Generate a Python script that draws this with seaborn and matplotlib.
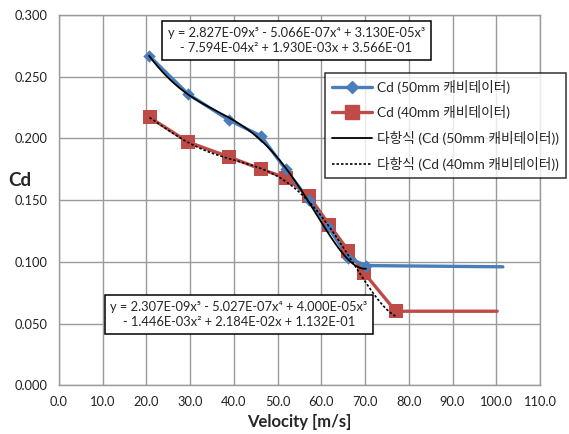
import numpy as np
import pandas as pd
import matplotlib
matplotlib.use("Agg")
import matplotlib.pyplot as plt
from matplotlib.lines import Line2D
import seaborn as sns

# Measured drag coefficients
vel_50 = [20.6, 29.5, 38.8, 46.2, 51.8, 57.2, 61.6, 66.2, 70.2, 101.5]
cd_50 = [0.267, 0.236, 0.215, 0.202, 0.175, 0.150, 0.128, 0.103, 0.097, 0.096]
vel_40 = [20.7, 29.6, 38.9, 46.3, 51.9, 57.2, 61.8, 66.2, 69.8, 77.0, 100.2]
cd_40 = [0.217, 0.197, 0.185, 0.175, 0.168, 0.153, 0.130, 0.109, 0.091, 0.060, 0.060]

# 5th-order polynomial trendline coefficients (highest power first)
coef_50 = [2.827e-09, -5.066e-07, 3.130e-05, -7.594e-04, 1.930e-03, 3.566e-01]
coef_40 = [2.307e-09, -5.027e-07, 4.000e-05, -1.446e-03, 2.184e-02, 1.132e-01]

label_50 = "Cd (50mm 캐비테이터)"
label_40 = "Cd (40mm 캐비테이터)"
label_p50 = "다항식 (Cd (50mm 캐비테이터))"
label_p40 = "다항식 (Cd (40mm 캐비테이터))"

x_ticks = np.arange(0, 111, 10)
y_ticks = np.arange(0, 0.301, 0.05)

sns.set_theme(style="white")
plt.rcParams["font.family"] = ["Lato", "Noto Sans CJK KR", "DejaVu Sans"]

blue = "#4A7EBB"
red = "#BE4B48"
grid_c = "#9a9a9a"

W, H = 569, 434
fig = plt.figure(figsize=(W / 100, H / 100), dpi=100)
ax = fig.add_axes([59 / W, 1 - 385.3 / H, 481 / W, 370.3 / H])

df50 = pd.DataFrame({"v": vel_50, "cd": cd_50})
df40 = pd.DataFrame({"v": vel_40, "cd": cd_40})

# Series lines
sns.lineplot(data=df50, x="v", y="cd", ax=ax, color=blue, lw=2.4,
             sort=False, zorder=3)
sns.lineplot(data=df40, x="v", y="cd", ax=ax, color=red, lw=2.4,
             sort=False, zorder=2)
# Markers on the measured points
sns.scatterplot(data=df50.iloc[:-1], x="v", y="cd", ax=ax, color=blue,
                marker="D", s=40, edgecolor=blue, linewidth=0, zorder=4)
sns.scatterplot(data=df40.iloc[:-1], x="v", y="cd", ax=ax, color=red,
                marker="s", s=95, edgecolor=red, linewidth=0, zorder=3)

# Polynomial trendlines
xs50 = np.linspace(vel_50[0], vel_50[-2], 200)
xs40 = np.linspace(vel_40[0], vel_40[-2], 200)
ax.plot(xs50, np.polyval(coef_50, xs50), color="black", lw=1.3, zorder=5)
ax.plot(xs40, np.polyval(coef_40, xs40), color="black", lw=1.2,
        ls=(0, (1.5, 1.2)), zorder=5)


def poly_text(c):
    def f(v):
        return f"{abs(v):.3E}"

    def sign(v):
        return "+" if v >= 0 else "-"

    l1 = (f"y = {f(c[0])}x⁵ {sign(c[1])} {f(c[1])}x⁴ "
          f"{sign(c[2])} {f(c[2])}x³")
    l2 = (f"{sign(c[3])} {f(c[3])}x² {sign(c[4])} {f(c[4])}x "
          f"{sign(c[5])} {f(c[5])}")
    return l1 + "\n" + l2


box = dict(boxstyle="square,pad=0.45", fc="white", ec="black", lw=1.1)
fig.text(296.5 / W, 1 - 40.3 / H, poly_text(coef_50), fontsize=9.3,
         ha="center", va="center", linespacing=1.35, bbox=box, zorder=6)
fig.text(239 / W, 1 - 314.6 / H, poly_text(coef_40), fontsize=9.3,
         ha="center", va="center", linespacing=1.35, bbox=box, zorder=6)

ax.set_xlim(0, 110)
ax.set_ylim(0, 0.3)
ax.set_xticks(x_ticks)
ax.set_yticks(y_ticks)
ax.set_xticklabels([f"{v:.1f}" for v in x_ticks])
ax.set_yticklabels([f"{v:.3f}" for v in y_ticks])
ax.tick_params(axis="both", labelsize=9.3, labelcolor="#222222",
               direction="out", length=5, width=1, color=grid_c, pad=3)
ax.grid(True, color=grid_c, lw=1)
for sp in ax.spines.values():
    sp.set_color(grid_c)
    sp.set_linewidth(1)
ax.set_xlabel("Velocity [m/s]", fontsize=12, fontweight="bold", labelpad=4)
ax.set_ylabel("Cd", fontsize=13.5, fontweight="bold", rotation=0,
              va="center", ha="center", labelpad=0)
ax.yaxis.set_label_coords(-0.081, (385.3 - 181) / 370.3)

handles = [
    Line2D([], [], color=blue, lw=2.4, marker="D", markersize=6),
    Line2D([], [], color=red, lw=2.4, marker="s", markersize=9.5),
    Line2D([], [], color="black", lw=1.3),
    Line2D([], [], color="black", lw=1.2, ls=(0, (1.5, 1.2))),
]
leg = ax.legend(handles, [label_50, label_40, label_p50, label_p40],
                loc="upper left", bbox_to_anchor=(325 / W, 1 - 72.7 / H),
                bbox_transform=fig.transFigure, fontsize=9.9, frameon=True,
                fancybox=False, edgecolor="black", handlelength=2.9,
                labelspacing=0.85, borderpad=0.5, handletextpad=0.4,
                borderaxespad=0)
leg.get_frame().set_linewidth(1.1)
leg.set_zorder(7)

fig.savefig("out.png", dpi=100)
